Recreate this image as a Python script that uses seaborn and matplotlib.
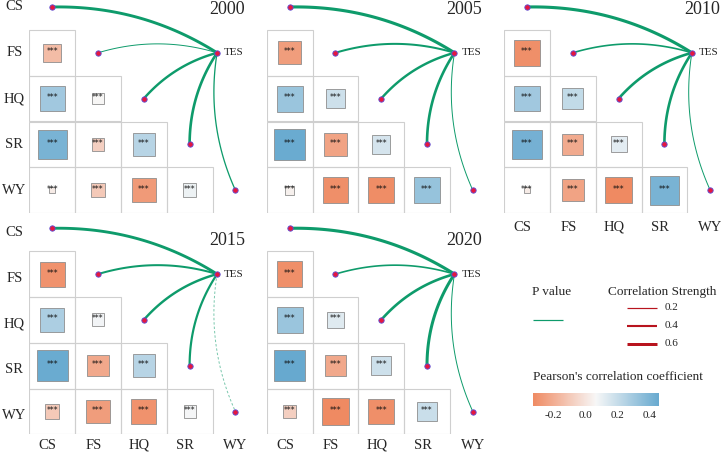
import numpy as np
import matplotlib
matplotlib.use("Agg")
import matplotlib.pyplot as plt
import seaborn as sns
from matplotlib.colors import LinearSegmentedColormap, Normalize
from matplotlib.patches import Rectangle
from matplotlib.cm import ScalarMappable

# ---------------- data ----------------
variables = ["CS", "FS", "HQ", "SR", "WY"]
years = ["2000", "2005", "2010", "2015", "2020"]

# lower-triangle pairs (row variable, column variable)
pair_rows = ["FS", "HQ", "HQ", "SR", "SR", "SR", "WY", "WY", "WY", "WY"]
pair_cols = ["CS", "CS", "FS", "CS", "FS", "HQ", "CS", "FS", "HQ", "SR"]

r_2000 = [-0.15, 0.30, 0.06, 0.41, -0.08, 0.24, 0.02, -0.10, -0.27, 0.09]
r_2005 = [-0.26, 0.32, 0.18, 0.45, -0.24, 0.16, 0.04, -0.31, -0.32, 0.33]
r_2010 = [-0.31, 0.30, 0.21, 0.42, -0.21, 0.12, 0.02, -0.24, -0.33, 0.41]
r_2015 = [-0.30, 0.27, 0.08, 0.45, -0.22, 0.24, -0.10, -0.26, -0.30, 0.07]
r_2020 = [-0.31, 0.32, 0.13, 0.46, -0.22, 0.18, -0.08, -0.33, -0.31, 0.19]

# link strength TES -> variable (CS, FS, HQ, SR, WY)
mantel_2000 = [0.58, 0.15, 0.47, 0.52, 0.22]
mantel_2005 = [0.62, 0.38, 0.47, 0.52, 0.15]
mantel_2010 = [0.62, 0.30, 0.52, 0.52, 0.15]
mantel_2015 = [0.57, 0.38, 0.47, 0.42, 0.15]
mantel_2020 = [0.62, 0.30, 0.52, 0.60, 0.15]

p_2000 = ["<0.01", "<0.01", "<0.01", "<0.01", "<0.01"]
p_2005 = ["<0.01", "<0.01", "<0.01", "<0.01", "<0.01"]
p_2010 = ["<0.01", "<0.01", "<0.01", "<0.01", "<0.01"]
p_2015 = ["<0.01", "<0.01", "<0.01", "<0.01", ">=0.05"]
p_2020 = ["<0.01", "<0.01", "<0.01", "<0.01", "<0.01"]

stars = "***"
legend_strength = [0.2, 0.4, 0.6]
cbar_ticks = [-0.2, 0.0, 0.2, 0.4]
cbar_ticklabels = ["-0.2", "0.0", "0.2", "0.4"]

corr_by_year = dict(zip(years, [r_2000, r_2005, r_2010, r_2015, r_2020]))
mantel_by_year = dict(zip(years, [mantel_2000, mantel_2005, mantel_2010, mantel_2015, mantel_2020]))
p_by_year = dict(zip(years, [p_2000, p_2005, p_2010, p_2015, p_2020]))

# ---------------- style ----------------
sns.set_theme(style="white")
plt.rcParams["font.family"] = ["Liberation Serif", "DejaVu Serif"]

W, H = 726, 455
fig = plt.figure(figsize=(W / 100, H / 100), dpi=100)

all_r = np.concatenate([corr_by_year[y] for y in years])
norm = Normalize(vmin=all_r.min(), vmax=all_r.max())
cmap = LinearSegmentedColormap.from_list("rdbu3", ["#EF8A62", "#F7F7F7", "#67A9CF"])

GREEN = "#0E9B6B"
p_style = {"<0.01": dict(color=GREEN, ls="-", alpha=1.0),
           ">=0.05": dict(color=GREEN, ls=(0, (2.5, 2)), alpha=0.55)}


def lw_of(s):
    # px -> pt
    return (0.3 + 4.5 * s) * 0.72


CELL = 45.8
GL0 = 29.3
ROW0 = 7.0
PDX = 237.4
PDY = 221.3
slots = [(0, 0), (1, 0), (2, 0), (0, 1), (1, 1)]
TES_X, TES_Y = 3.6, 1.0
RAD = 0.15
idx = {v: i for i, v in enumerate(variables)}

for year, (sc, sr) in zip(years, slots):
    gl = GL0 + sc * PDX
    r0 = ROW0 + sr * PDY
    top = r0 - CELL / 2
    ax = fig.add_axes([gl / W, 1 - (top + 5 * CELL) / H, 5 * CELL / W, 5 * CELL / H])

    rs = corr_by_year[year]
    for rv, cv, r in zip(pair_rows, pair_cols, rs):
        i, j = idx[rv], idx[cv]
        ax.add_patch(Rectangle((j - 0.5, i - 0.5), 1, 1, fill=False,
                               edgecolor="#CFCFCF", lw=0.8, zorder=1))
        side = np.sqrt(abs(r))
        ax.add_patch(Rectangle((j - side / 2, i - side / 2), side, side,
                               facecolor=cmap(norm(r)), edgecolor="#8E8E8E",
                               lw=0.6, zorder=2))
        ax.text(j, i - 0.02, stars, ha="center", va="center", fontsize=5.5,
                family="DejaVu Sans", color="#111111", zorder=3)

    # links from TES to diagonal nodes
    for t, v in enumerate(variables):
        x0, y0 = TES_X, TES_Y
        x2, y2 = t, t
        dx, dy = x2 - x0, y2 - y0
        cx = (x0 + x2) / 2 - RAD * dy
        cy = (y0 + y2) / 2 + RAD * dx
        tt = np.linspace(0, 1, 80)
        bx = (1 - tt) ** 2 * x0 + 2 * (1 - tt) * tt * cx + tt ** 2 * x2
        by = (1 - tt) ** 2 * y0 + 2 * (1 - tt) * tt * cy + tt ** 2 * y2
        st = p_style[p_by_year[year][t]]
        ax.plot(bx, by, color=st["color"], ls=st["ls"], alpha=st["alpha"],
                lw=lw_of(mantel_by_year[year][t]), solid_capstyle="butt",
                zorder=4, clip_on=False)

    node_x = list(range(len(variables))) + [TES_X]
    node_y = list(range(len(variables))) + [TES_Y]
    sns.scatterplot(x=node_x, y=node_y, ax=ax, s=15, color="#E5173F",
                    edgecolor="#5A4FD8", linewidth=0.6, legend=False,
                    zorder=5, clip_on=False)
    ax.set_xlim(-0.5, 4.5)
    ax.set_ylim(4.5, -0.5)
    ax.axis("off")

    ax.text(TES_X + 7 / CELL, TES_Y, "TES", ha="left", va="center", fontsize=8)
    title_y = (9 - ROW0) / CELL if sr == 0 else (241 - 228.3) / CELL
    ax.text(4.21, title_y, year, ha="right", va="center", fontsize=13)

    if sc == 0:
        off = 0.0 if sr == 0 else 4 / CELL
        for i, v in enumerate(variables):
            ax.text(-0.5 - 15 / CELL, i + off, v, ha="center", va="center", fontsize=10.5)
    if sr == 1 or year == "2010":
        yoff = 10.7 if sr == 1 else 14.4
        for j, v in enumerate(variables):
            shift = 0 if j == 4 else 4.5 / CELL
            ax.text(j - shift, 4.5 + yoff / CELL, v, ha="center", va="center", fontsize=10.5)

# ---------------- legends ----------------
lg = fig.add_axes([0, 0, 1, 1])
lg.set_xlim(0, W)
lg.set_ylim(H, 0)
lg.axis("off")

lg.text(532, 292, "P value", ha="left", va="center", fontsize=9.5)
lg.plot([533, 563], [320, 320], color=GREEN, lw=lw_of(0.2), solid_capstyle="butt")

lg.text(608, 292, "Correlation Strength", ha="left", va="center", fontsize=9.5)
for k, s in enumerate(legend_strength):
    yy = 308 + 18 * k
    lg.plot([627, 657], [yy, yy], color="#B8141E", lw=lw_of(s), solid_capstyle="butt")
    lg.text(665, yy, f"{s:.1f}", ha="left", va="center", fontsize=8)

lg.text(533, 377, "Pearson's correlation coefficient", ha="left", va="center", fontsize=9.5)

cax = fig.add_axes([533 / W, 1 - 406 / H, 126 / W, 13 / H])
cb = fig.colorbar(ScalarMappable(norm=norm, cmap=cmap), cax=cax,
                  orientation="horizontal", ticks=cbar_ticks)
cb.outline.set_visible(False)
cax.set_xticklabels(cbar_ticklabels)
cax.tick_params(axis="x", which="both", direction="in", length=2.6, width=0.8,
                color="white", top=True, bottom=True, labelsize=8, pad=3.5,
                labelcolor="#222222")

fig.savefig("out.png", dpi=100)
